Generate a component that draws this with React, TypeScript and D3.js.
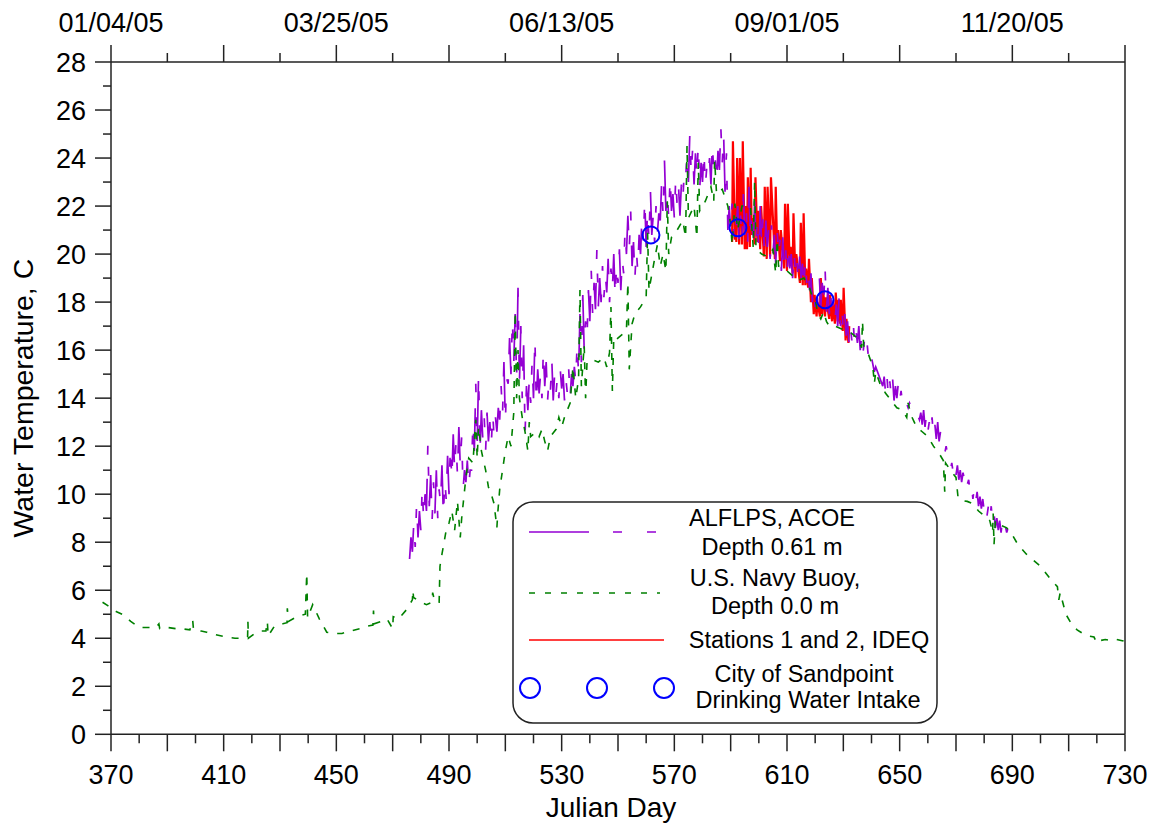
import React from 'react';
import * as d3 from 'd3';

// ALFLPS, ACOE (depth 0.61 m): daily low / high
const alflpsDays = [
  476, 477, 478, 479, 480, 481, 482, 483, 484, 485, 486, 487, 488, 489,
  490, 491, 492, 493, 494, 495, 496, 497, 498, 499,
  500, 501, 502, 503, 504, 505, 506, 507, 508, 509,
  510, 511, 512, 513, 514, 515, 516, 517, 518, 519,
  520, 521, 522, 523, 524, 525, 526, 527, 528, 529,
  530, 531, 532, 533, 534, 535, 536, 537, 538, 539,
  540, 541, 542, 543, 544, 545, 546, 547, 548, 549,
  550, 551, 552, 553, 554, 555, 556, 557, 558, 559,
  560, 561, 562, 563, 564, 565, 566, 567, 568, 569,
  570, 571, 572, 573, 574, 575, 576, 577, 578, 579,
  580, 581, 582, 583, 584, 585, 586, 587, 588, 589,
  590, 591, 592, 593, 594, 595, 596, 597, 598, 599,
  600, 601, 602, 603, 604, 605, 606, 607, 608, 609,
  610, 611, 612, 613, 614, 615, 616, 617, 618, 619,
  620, 621, 622, 623, 624, 625, 626, 627, 628, 629,
  630, 631, 632, 633, 634, 635, 636, 637, 638, 639,
  641, 644, 645, 646, 647, 648, 649, 650, 651, 653, 655,
  657, 658, 659, 660, 661, 662, 663, 664, 666,
  668, 669, 670, 671, 672, 673, 674, 675, 676, 677, 678,
  679, 680, 681, 682, 683, 684, 685, 686, 687, 688, 690,
];
const alflpsLow = [
  7.3, 7.6, 7.8, 8.2, 8.5, 8.9, 9.3, 9.5, 8.9, 9.2, 9.0, 9.6, 9.1, 9.8,
  10.0, 10.6, 11.0, 10.8, 11.2, 10.2, 10.5, 10.3, 11.0, 11.8,
  12.0, 11.8, 12.3, 11.8, 12.2, 12.0, 12.4, 12.6, 13.1, 13.3,
  13.0, 14.6, 15.0, 15.5, 14.8, 14.6, 14.0, 12.5, 13.5, 13.8,
  14.0, 13.8, 14.2, 14.0, 14.5, 13.9, 14.3, 13.9, 14.2, 14.0,
  14.4, 13.9, 14.2, 14.0, 14.5, 14.7, 15.0, 15.5, 16.0, 16.5,
  17.2, 17.5, 17.7, 17.8, 18.0, 18.2, 18.4, 18.0, 18.5, 18.2,
  18.8, 18.5, 19.2, 20.0, 20.2, 19.5, 19.0, 19.3, 20.0, 20.5,
  20.3, 20.6, 20.8, 20.5, 20.9, 21.4, 21.6, 21.8, 21.5, 21.8,
  21.5, 22.0, 21.6, 22.2, 23.1, 23.0, 23.3, 22.9, 23.2, 22.7,
  23.0, 22.8, 23.2, 22.9, 23.4, 23.0, 23.5, 23.8, 22.6, 21.0,
  21.0, 20.8, 21.2, 20.6, 20.5, 20.8, 20.4, 20.6, 20.2, 20.5,
  20.1, 20.4, 20.0, 20.3, 19.8, 20.0, 19.6, 19.9, 19.3, 19.6,
  19.1, 19.4, 19.0, 19.2, 18.8, 19.0, 18.6, 18.8, 18.5, 18.0,
  17.8, 17.9, 17.8, 17.9, 17.6, 17.5, 17.3, 17.2, 17.0, 17.0,
  16.7, 16.6, 16.3, 16.4, 16.2, 16.3, 16.0, 15.9, 15.8, 15.6,
  15.1, 14.5, 14.2, 14.0, 14.1, 13.9, 14.0, 13.9, 13.8, 13.6, 13.4,
  13.1, 12.9, 12.8, 12.6, 12.5, 12.4, 12.3, 12.2, 11.7,
  11.0, 10.9, 10.8, 10.6, 10.5, 10.6, 10.4, 10.1, 9.8, 9.7, 9.5,
  9.4, 9.3, 9.1, 8.9, 8.8, 8.6, 8.5, 8.4, 8.5, 8.4, 7.8,
];
const alflpsHigh = [
  8.2, 8.8, 9.6, 9.3, 10.3, 10.0, 12.1, 10.8, 10.5, 11.0, 10.2, 11.2, 10.6, 11.6,
  12.0, 12.5, 12.2, 12.8, 12.4, 11.0, 11.4, 11.0, 13.0, 14.6,
  15.0, 13.5, 13.2, 13.4, 13.0, 13.4, 13.2, 13.6, 14.5, 15.5,
  14.8, 16.5, 17.3, 17.5, 18.6, 17.0, 16.2, 14.5, 14.8, 15.5,
  16.5, 15.2, 15.0, 16.0, 15.5, 14.8, 15.6, 15.0, 14.9, 15.2,
  15.0, 14.8, 15.2, 15.0, 15.3, 16.3, 17.5, 18.3, 17.2, 18.5,
  19.3, 18.8, 20.2, 19.0, 19.5, 19.2, 19.8, 19.4, 20.0, 19.6,
  20.2, 19.8, 21.0, 21.6, 21.8, 20.5, 20.2, 20.8, 21.5, 22.3,
  21.8, 22.7, 21.6, 22.0, 21.7, 23.0, 23.9, 22.6, 23.2, 22.5,
  23.2, 22.8, 22.9, 23.4, 24.2, 25.0, 24.4, 24.2, 24.6, 23.8,
  24.3, 23.6, 24.0, 24.6, 24.0, 24.3, 25.3, 25.0, 24.2, 22.0,
  22.1, 21.8, 22.0, 21.6, 22.5, 22.0, 22.8, 21.8, 22.2, 21.5,
  22.0, 21.6, 21.4, 21.0, 21.2, 20.8, 21.0, 20.6, 20.7, 20.3,
  20.4, 20.0, 20.1, 19.8, 19.9, 19.6, 19.8, 19.4, 19.2, 18.6,
  18.6, 19.0, 18.8, 19.5, 18.6, 18.4, 18.1, 17.9, 18.2, 17.8,
  17.5, 17.2, 17.0, 17.2, 16.8, 17.0, 16.6, 16.4, 16.2, 16.0,
  15.3, 14.9, 14.9, 14.7, 14.8, 14.5, 14.6, 14.3, 14.1, 13.8, 13.6,
  13.4, 13.5, 13.3, 13.0, 13.2, 12.9, 13.0, 12.6, 12.0,
  11.3, 11.3, 11.2, 11.0, 10.9, 10.9, 10.6, 10.4, 10.3, 10.1, 9.9,
  9.8, 9.6, 9.5, 9.5, 9.2, 9.0, 8.9, 8.9, 8.7, 8.6, 7.9,
];

// U.S. Navy Buoy (depth 0.0 m): [julian day, temperature C]
const navyBuoy: [number, number][] = [
  [367, 5.5], [369, 5.35], [372, 5.1], [374, 5.0], [377, 4.7], [380, 4.45],
  [383, 4.45], [386, 4.45], [387, 4.6], [387.3, 4.4], [390, 4.45], [393, 4.4],
  [395, 4.4], [398, 4.35], [399, 4.75], [399.3, 4.35], [402, 4.3], [404, 4.25],
  [407, 4.15], [411, 4.05], [414, 4.0], [416, 4.0], [418.5, 4.05], [418.6, 4.7],
  [418.8, 4.0], [421, 4.2], [423, 4.3], [425, 4.3], [425.5, 4.7], [425.8, 4.1],
  [428, 4.5], [431, 4.6], [432.5, 4.65], [432.6, 5.25], [433, 4.7], [436, 4.9],
  [439, 5.0], [439.5, 6.7], [439.8, 4.85], [441.6, 5.4], [444, 4.8], [446.6, 4.25],
  [449, 4.2], [452, 4.2], [455, 4.3], [458.4, 4.4], [461, 4.5], [463, 4.55],
  [463.2, 5.15], [463.4, 4.6], [466, 4.7], [468, 4.8], [470, 4.4], [470.2, 4.9],
  [472, 4.8], [475, 5.2], [477, 5.6], [477.2, 6.0], [477.4, 5.7], [480, 5.5],
  [482, 5.4], [484, 5.5], [484.2, 5.9], [485, 5.5], [486.5, 5.5], [486.8, 7.0],
  [487.5, 7.5], [489, 8.5], [490, 8.8], [491, 9.3], [492, 8.5], [493, 9.7],
  [494, 8.2], [494.5, 9.0], [496, 10.7], [497, 11.5], [498.5, 11.3], [499.5, 13.1],
  [500, 11.5], [500.5, 12.8], [501.5, 11.8], [503, 11.0], [504, 10.3], [505, 10.0],
  [506, 9.6], [507, 8.6], [507.3, 9.2], [508, 10.2], [509, 11.0], [510, 11.8],
  [511, 12.4], [512, 12.0], [513, 13.4], [513.5, 17.6], [514, 14.0], [514.5, 16.0],
  [515, 14.0], [516, 13.2], [517, 12.6], [518, 11.8], [518.5, 13.0], [519, 12.4],
  [521, 12.6], [522, 12.4], [523, 12.7], [524, 12.2], [525, 11.8], [526, 12.4],
  [528, 12.7], [529, 13.2], [530, 12.8], [531, 13.2], [532, 13.5], [533, 13.8],
  [534, 15.3], [535, 14.0], [536, 14.8], [536.5, 18.5], [537, 14.5], [538, 16.2],
  [538.5, 14.0], [539, 15.5], [541, 15.6], [543, 15.5], [545, 15.7], [546, 15.3],
  [547, 15.9], [547.5, 17.8], [548, 14.3], [548.5, 16.5], [549, 16.4], [551, 16.6],
  [553, 16.8], [553.5, 18.8], [554, 15.2], [555, 17.1], [556, 17.5], [558, 17.8],
  [560, 18.2], [560.5, 20.9], [561, 18.5], [563, 19.8], [564, 20.4], [565, 19.5],
  [566, 20.0], [567, 19.3], [567.5, 22.2], [568, 20.0], [569, 20.7], [571, 21.0],
  [573, 21.4], [574, 20.7], [574.5, 24.5], [575, 21.5], [577, 22.0], [578, 20.7],
  [578.5, 23.8], [579, 21.8], [581, 22.2], [583, 22.8], [584, 22.2], [584.3, 23.9],
  [585, 22.5], [587, 22.7], [589, 22.0], [590, 21.2], [590.5, 20.4], [591.5, 22.1],
  [592.5, 21.0], [594, 22.0], [597, 22.0], [598, 20.3], [598.5, 23.0], [599, 20.2],
  [601, 20.0], [603, 19.9], [605, 20.2], [606, 19.2], [606.5, 20.6], [607, 19.5],
  [609, 19.4], [611, 19.2], [613, 19.0], [614, 18.9], [616, 19.0], [618, 18.6],
  [619, 18.2], [620, 18.1], [621, 17.5], [622, 17.3], [623, 17.6], [624, 17.2],
  [625, 17.0], [627, 17.0], [629, 16.9], [631, 16.8], [633, 16.7], [635, 16.5],
  [636.5, 16.1], [636.8, 17.2], [637.2, 16.2], [639, 15.8], [640.5, 15.3], [641, 14.6],
  [641.5, 15.1], [643, 14.6], [645, 14.2], [647, 13.9], [649, 13.6], [651, 13.5],
  [652.5, 13.2], [653, 13.8], [654, 13.3], [656, 12.8], [658, 12.6], [660, 12.4],
  [662, 12.0], [664, 11.7], [665.5, 11.4], [666, 10.1], [666.3, 11.3], [668, 11.0],
  [670, 10.7], [670.7, 9.9], [671.5, 9.75], [674, 9.7], [676, 9.6], [678, 9.3],
  [680, 9.1], [682, 8.9], [683, 8.4], [683.2, 9.2], [683.5, 7.9], [684, 8.9],
  [686, 8.7], [688, 8.6], [690, 8.3], [692, 7.9], [695, 7.5], [697, 7.3],
  [700, 7.0], [702, 6.7], [704, 6.4], [706, 6.15], [706.5, 5.6], [707, 5.9],
  [709, 5.0], [711, 4.6], [713, 4.35], [715, 4.2], [717, 4.1], [719, 4.05],
  [720, 3.8], [721, 3.9], [723, 3.95], [725, 3.9], [727, 3.95], [729, 3.9],
  [730.5, 3.85],
];

// Stations 1 and 2, IDEQ: low / high per reading
const ideqDays = [
  590.5, 591.5, 592, 593, 594, 595, 595.8, 596.8, 597.5, 598.5, 599.5, 600.5,
  601.8, 602.8, 604, 605.7, 606.5, 607.5, 609, 610, 611, 612, 613, 614.6,
  615.6, 616.5, 617.5, 618.5, 619.5, 620.5, 621.7, 622.5, 623.5, 625, 626, 627,
  628, 628.8, 629.8, 630.8, 631.8,
];
const ideqLow = [
  20.5, 20.6, 20.5, 20.4, 20.4, 20.2, 20.2, 20.3, 20.8, 20.4, 20.5, 20.2,
  19.9, 19.8, 19.9, 19.8, 20.2, 19.7, 19.4, 19.3, 19.5, 19.2, 19.0, 18.8,
  18.7, 18.7, 18.6, 18.0, 17.5, 17.4, 17.4, 17.5, 17.4, 17.3, 17.2, 17.1,
  17.2, 17.1, 16.8, 16.4, 16.3,
];
const ideqHigh = [
  24.7, 22.0, 24.0, 24.0, 24.7, 22.0, 23.2, 23.6, 21.5, 23.2, 21.8, 22.0,
  22.8, 22.8, 23.2, 22.8, 21.0, 21.0, 22.1, 22.1, 20.3, 21.7, 20.0, 21.3,
  21.7, 19.4, 19.8, 19.0, 18.3, 18.0, 19.0, 18.6, 18.2, 18.3, 18.0, 18.4,
  18.1, 18.1, 18.6, 17.3, 17.0,
];

// City of Sandpoint drinking water intake
const sandpointDays = [561.7, 592.6, 623.5];
const sandpointTemps = [20.8, 21.1, 18.1];

const bottomLabels = [370, 410, 450, 490, 530, 570, 610, 650, 690, 730];
const topLabelDays = [370, 450, 530, 610, 690];
const topLabels = ['01/04/05', '03/25/05', '06/13/05', '09/01/05', '11/20/05'];
const yLabels = [0, 2, 4, 6, 8, 10, 12, 14, 16, 18, 20, 22, 24, 26, 28];

const FONT = "'Liberation Sans', Arial, Helvetica, sans-serif";

export default function App() {
  const width = 1152;
  const height = 825;
  const left = 111, right = 1125, top = 62, bottom = 734.3;

  const x = d3.scaleLinear().domain([370, 730]).range([left, right]);
  const y = d3.scaleLinear().domain([0, 28]).range([bottom, top]);
  const line = d3.line<[number, number]>().x(d => x(d[0])).y(d => y(d[1]));

  const alflpsPts: [number, number][] = [];
  alflpsDays.forEach((d, i) => {
    alflpsPts.push([d, alflpsLow[i]]);
    alflpsPts.push([d + 0.5, alflpsHigh[i]]);
  });
  const ideqPts: [number, number][] = [];
  ideqDays.forEach((d, i) => {
    ideqPts.push([d, ideqLow[i]]);
    ideqPts.push([d + 0.3, ideqHigh[i]]);
  });

  const ticks10 = d3.range(370, 731, 10);
  const ticksTop = d3.range(370, 731, 20);
  const yTicks = d3.range(0, 29, 1);

  return (
    <svg width={width} height={height} style={{ position: 'absolute', left: 0, top: 0, background: '#fff' }}
      fontFamily={FONT}>
      <rect width={width} height={height} fill="#fff" />

      {/* data */}
      <path d={line(ideqPts) || ''} fill="none" stroke="#FF0000" strokeWidth={2.2} />
      <path d={line(alflpsPts) || ''} fill="none" stroke="#9400D3" strokeWidth={1.7} strokeDasharray="60 24 9 25 9 25" />
      <path d={line(navyBuoy) || ''} fill="none" stroke="#008000" strokeWidth={1.6} strokeDasharray="7 9" />
      {sandpointDays.map((d, i) => (
        <circle key={i} cx={x(d)} cy={y(sandpointTemps[i])} r={8.5} fill="none" stroke="#0000FF" strokeWidth={2} />
      ))}

      {/* frame */}
      <g stroke="#222" strokeWidth={1.5} fill="none">
        <line x1={left} x2={left} y1={top} y2={bottom} />
        <line x1={right} x2={right} y1={top} y2={bottom} />
        <line x1={left} x2={right} y1={top} y2={top} />
        <line x1={left} x2={right} y1={bottom} y2={bottom} />
        {yTicks.map(t => (
          <line key={t} x1={left - (t % 2 === 0 ? 16 : 8)} x2={left} y1={y(t)} y2={y(t)} />
        ))}
        {ticks10.map(t => (
          <line key={t} x1={x(t)} x2={x(t)} y1={bottom} y2={bottom + ((t - 370) % 20 === 0 ? 17 : 9)} />
        ))}
        {ticksTop.map(t => (
          <line key={t} x1={x(t)} x2={x(t)} y1={top} y2={top - ((t - 370) % 40 === 0 ? 17 : 9)} />
        ))}
      </g>

      {/* tick labels */}
      <g fontSize={27} fill="#000">
        {yLabels.map(t => (
          <text key={t} x={86} y={y(t) + 9.5} textAnchor="end">{t}</text>
        ))}
        {bottomLabels.map(t => (
          <text key={t} x={x(t)} y={784} textAnchor="middle">{t}</text>
        ))}
        {topLabelDays.map((t, i) => (
          <text key={t} x={x(t)} y={32} textAnchor="middle">{topLabels[i]}</text>
        ))}
      </g>

      {/* axis titles */}
      <text x={611} y={817} textAnchor="middle" fontSize={28}>Julian Day</text>
      <text transform={`translate(33, ${(top + bottom) / 2}) rotate(-90)`} textAnchor="middle" fontSize={28.5}>
        Water Temperature, C
      </text>

      {/* legend */}
      <g>
        <rect x={513} y={502} width={424} height={221} rx={20} ry={20} fill="#fff" stroke="#222" strokeWidth={1.5} />
        <line x1={529} x2={657} y1={532} y2={532} stroke="#9400D3" strokeWidth={1.6} strokeDasharray="60 24 9 25 9 25" />
        <line x1={529} x2={660} y1={593} y2={593} stroke="#008000" strokeWidth={1.6} strokeDasharray="6 10" />
        <line x1={529} x2={664} y1={640} y2={640} stroke="#FF0000" strokeWidth={1.6} />
        {[530, 597, 664].map(cx => (
          <circle key={cx} cx={cx} cy={688} r={10} fill="none" stroke="#0000FF" strokeWidth={2} />
        ))}
        <g fontSize={23.5} textAnchor="middle" fill="#000">
          <text x={772} y={526}>ALFLPS, ACOE</text>
          <text x={772} y={555}>Depth 0.61 m</text>
          <text x={775} y={586}>U.S. Navy Buoy,</text>
          <text x={775} y={614}>Depth 0.0 m</text>
          <text x={809} y={648}>Stations 1 and 2, IDEQ</text>
          <text x={804} y={682}>City of Sandpoint</text>
          <text x={808} y={708}>Drinking Water Intake</text>
        </g>
      </g>
    </svg>
  );
}
